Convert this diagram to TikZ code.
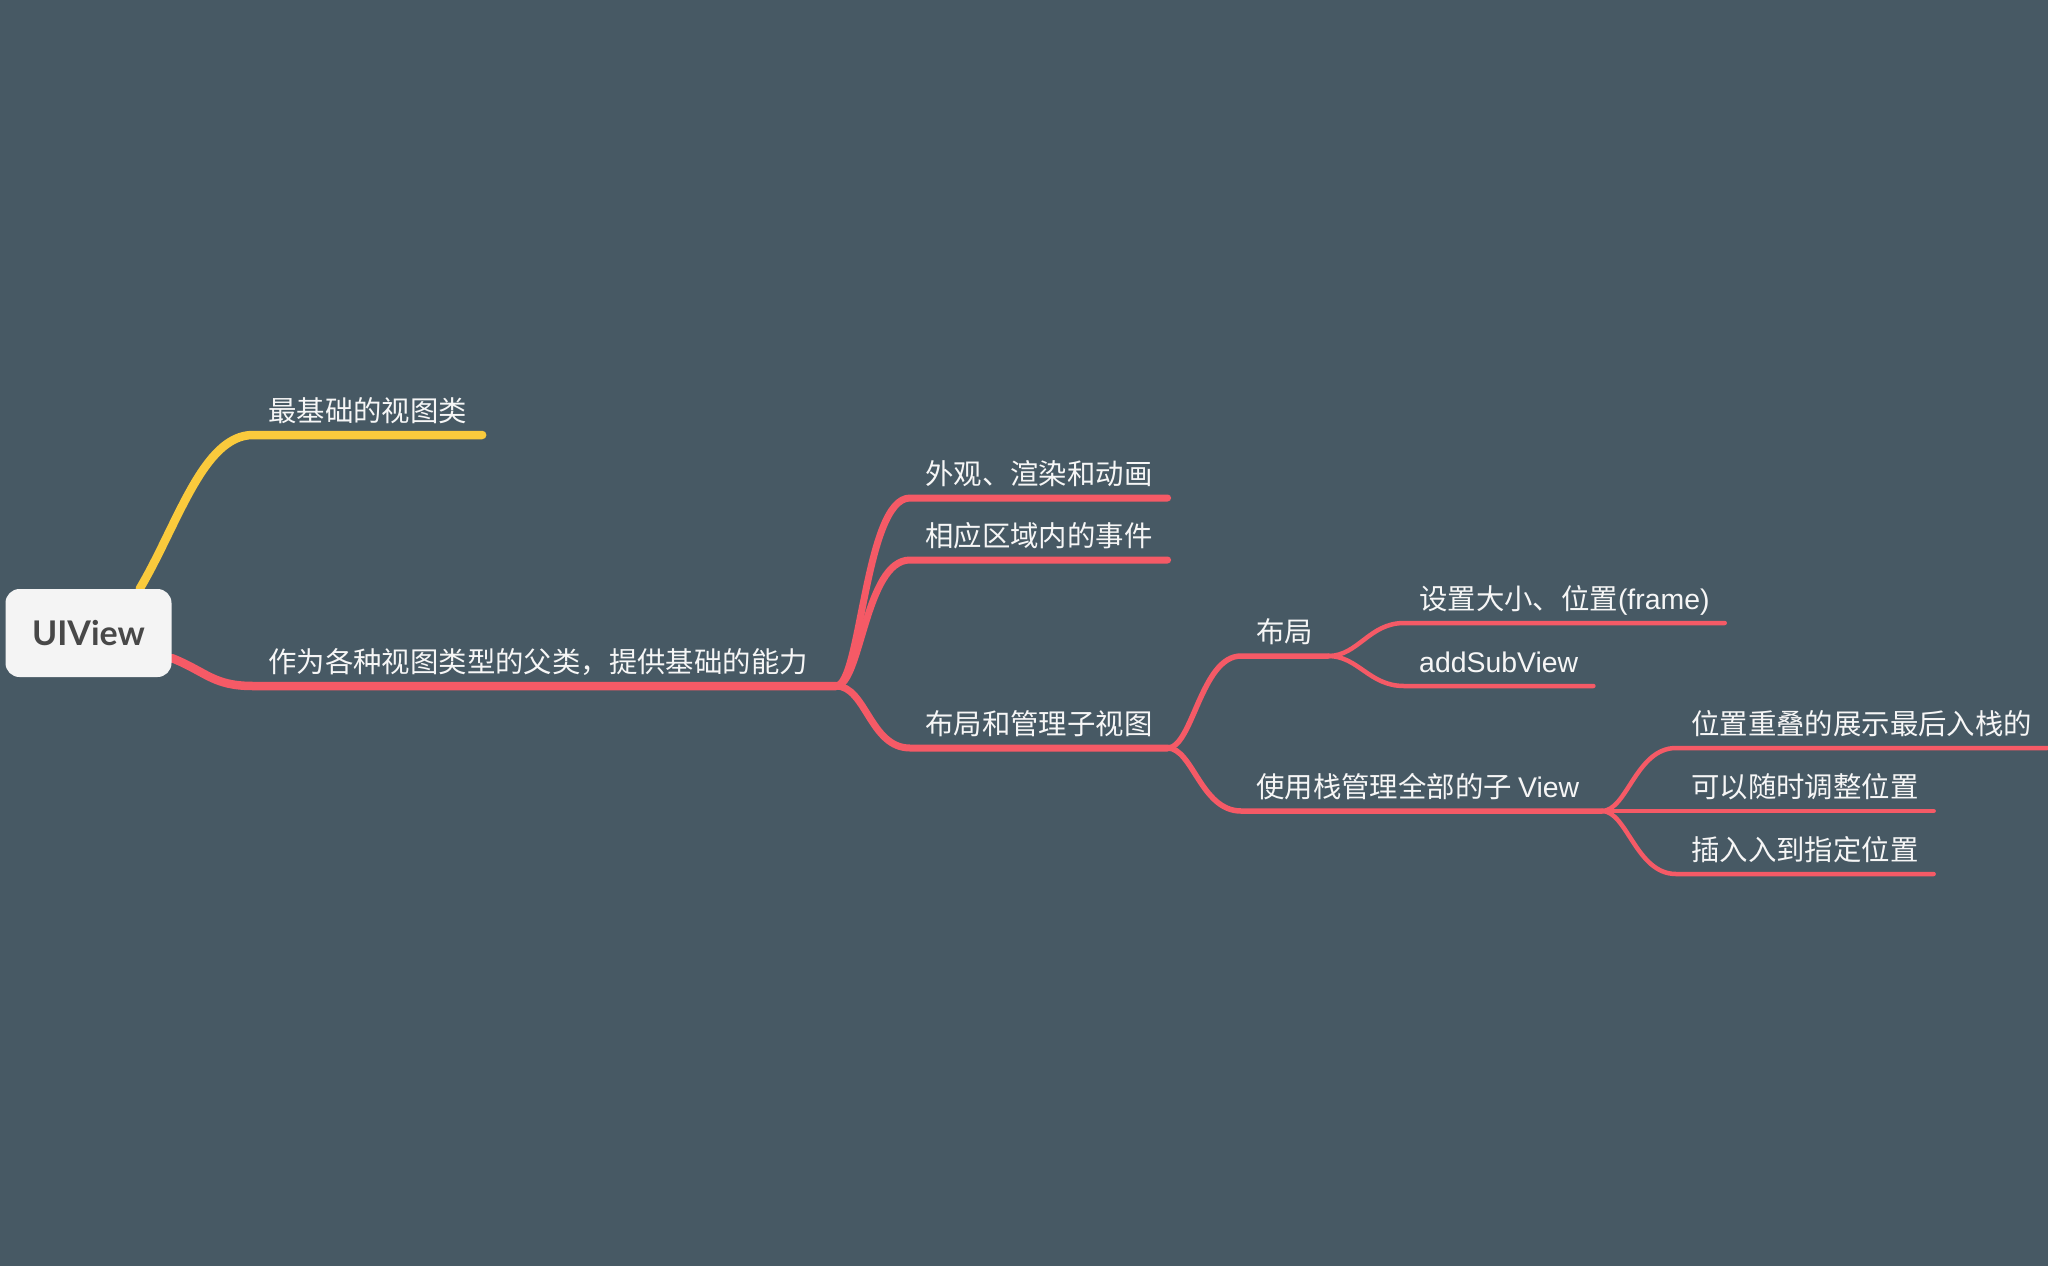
\documentclass[tikz,border=0pt]{standalone}
\usepackage{fontspec}
\setmainfont{Noto Sans CJK SC}
\newfontfamily\latfont{Liberation Sans}
\newfontfamily\rootfont{Lato}
\definecolor{bgc}{RGB}{71,89,100}
\definecolor{redl}{RGB}{245,90,102}
\definecolor{yell}{RGB}{250,202,60}
\definecolor{txt}{RGB}{246,246,246}
\definecolor{rootfill}{RGB}{244,244,244}
\definecolor{roottxt}{RGB}{72,72,72}
\pgfdeclarelayer{back}
\pgfdeclarelayer{lines}
\pgfsetlayers{back,lines,main}
\newcommand{\lat}[1]{{\latfont #1}}
\begin{document}
\begin{tikzpicture}[x=1pt,y=-1pt,
  topic/.style={anchor=south west, inner xsep=15pt, inner ysep=13pt, text depth=0pt,
    text=txt, font=\fontsize{28.4}{32}\selectfont},
  rootbox/.style={draw=none, fill=rootfill, rounded corners=14pt, minimum width=166pt,
    minimum height=88pt, text=roottxt, font=\rootfont\bfseries\fontsize{34}{40}\selectfont},
  br/.style={draw=redl, line cap=round, line join=round},
  yb/.style={draw=yell, line cap=round, line join=round},
  lone/.style={line width=8.5pt},
  ltwo/.style={line width=7pt},
  lthree/.style={line width=5.5pt},
  lfour/.style={line width=4.5pt}]
\begin{pgfonlayer}{back}
\fill[bgc] (0,0) rectangle (2048,1266);
\end{pgfonlayer}
\useasboundingbox (0,0) rectangle (2048,1266);

\node[rootbox] (root) at (88.5,633) {UIView};

\node[topic] (n0) at (253,435) {最基础的视图类};
\node[topic] (n1) at (253,686) {作为各种视图类型的父类，提供基础的能力};
\coordinate (j1) at (836,686);

\node[topic] (n11) at (910,498) {外观、渲染和动画};
\node[topic] (n12) at (910,560) {相应区域内的事件};
\node[topic] (n13) at (910,748) {布局和管理子视图};

\node[topic] (n131) at (1241,656) {布局};
\node[topic] (n132) at (1241,811) {使用栈管理全部的子 \lat{View}};
\coordinate (j132) at (1602,811);

\node[topic] (n1311) at (1404,623) {设置大小、位置\lat{(frame)}};
\node[topic] (n1312) at (1404,686) {\lat{addSubView}};

\node[topic] (n1321) at (1676,748) {位置重叠的展示最后入栈的};
\node[topic] (n1322) at (1676,811) {可以随时调整位置};
\node[topic] (n1323) at (1676,874) {插入入到指定位置};

\begin{pgfonlayer}{lines}
% level 1
\draw[yb,lone] ([xshift=-32pt]root.north east) .. controls +(38,-64) and +(-50,0) .. (n0.south west) -- (n0.south east);
\draw[br,lone] ([yshift=-25pt]root.east) .. controls +(35,14) and +(-40,0) .. (n1.south west) -- (j1);
% level 2
\draw[br,ltwo] (j1) .. controls +(25,0) and +(-45,0) .. (n11.south west) -- (n11.south east);
\draw[br,ltwo] (j1) .. controls +(25,0) and +(-45,0) .. (n12.south west) -- (n12.south east);
\draw[br,ltwo] (j1) .. controls +(30,0) and +(-40,0) .. (n13.south west) -- (n13.south east);
% level 3
\draw[br,lthree] (n13.south east) .. controls +(25,0) and +(-40,0) .. (n131.south west) -- (n131.south east);
\draw[br,lthree] (n13.south east) .. controls +(25,0) and +(-40,0) .. (n132.south west) -- (j132);
% level 4
\draw[br,lfour] (n131.south east) .. controls +(30,0) and +(-35,0) .. (n1311.south west) -- (n1311.south east);
\draw[br,lfour] (n131.south east) .. controls +(30,0) and +(-35,0) .. (n1312.south west) -- (n1312.south east);
\draw[br,lfour] (j132) .. controls +(25,0) and +(-40,0) .. (n1321.south west) -- (n1321.south east);
\draw[br,lfour] (j132) -- (n1322.south west) -- (n1322.south east);
\draw[br,lfour] (j132) .. controls +(25,0) and +(-40,0) .. (n1323.south west) -- (n1323.south east);
\end{pgfonlayer}
\end{tikzpicture}
\end{document}
